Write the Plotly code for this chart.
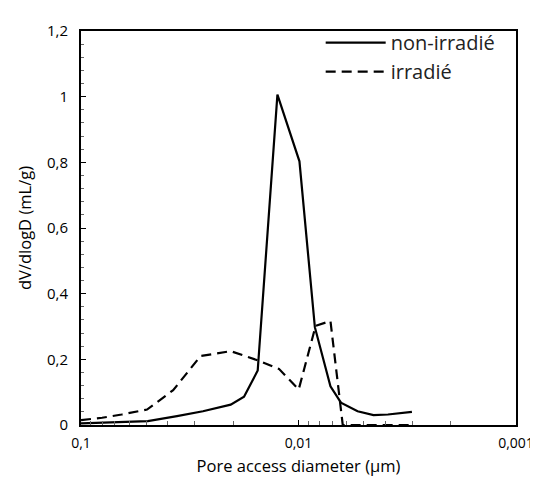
import plotly.graph_objects as go

# Pore access diameter (µm) and dV/dlogD (mL/g)
diam_non_irr = [0.100, 0.0493, 0.0362, 0.0275, 0.0205, 0.0178, 0.0154, 0.0125, 0.0099,
                0.00841, 0.00713, 0.00638, 0.00535, 0.00452, 0.00388, 0.00301]
dvdlogd_non_irr = [0.005, 0.012, 0.027, 0.042, 0.062, 0.086, 0.166, 1.006, 0.803,
                   0.298, 0.118, 0.068, 0.042, 0.030, 0.032, 0.040]

diam_irr = [0.100, 0.0800, 0.0650, 0.0497, 0.0377, 0.0282, 0.0205, 0.0154, 0.0123,
            0.00998, 0.00834, 0.00713, 0.00626, 0.00500, 0.00400, 0.00301]
dvdlogd_irr = [0.015, 0.022, 0.032, 0.047, 0.106, 0.210, 0.225, 0.197, 0.171,
               0.108, 0.302, 0.317, 0.0, 0.0, 0.0, 0.0]

x_tickvals = [0.1, 0.01, 0.001]
x_ticktext = ["0,1", "0,01", "0,001"]
x_minor_vals = [m * 10.0 ** e for e in (-2, -3) for m in range(2, 10)]

fig = go.Figure()
fig.add_trace(go.Scatter(x=diam_non_irr, y=dvdlogd_non_irr, mode="lines",
                         name="non-irradié", line=dict(color="black", width=2.2)))
fig.add_trace(go.Scatter(x=diam_irr, y=dvdlogd_irr, mode="lines",
                         name="irradié", line=dict(color="black", width=2.2, dash="10px,6px")))

font_family = "Open Sans, Lato, DejaVu Sans, sans-serif"
fig.update_layout(
    width=538, height=477,
    margin=dict(l=73, r=18, t=16, b=58),
    paper_bgcolor="white", plot_bgcolor="white",
    separators=", ",
    font=dict(family=font_family, size=14, color="black"),
    showlegend=True,
    legend=dict(x=0.551, y=1.02, xanchor="left", yanchor="top",
                bgcolor="rgba(0,0,0,0)", font=dict(size=20, color="#222"),
                tracegroupgap=0, itemwidth=60),
    xaxis=dict(type="log", range=[-1, -3], tickvals=x_tickvals, ticktext=x_ticktext,
               showline=True, linecolor="black", linewidth=2, mirror=True,
               ticks="inside", ticklen=5, tickcolor="black", showgrid=False, zeroline=False,
               ticklabelstandoff=4,
               minor=dict(ticks="inside", ticklen=4, tickcolor="#666", showgrid=False,
                          tickvals=x_minor_vals),
               title=dict(text="Pore access diameter (µm)", font=dict(size=16.5), standoff=10)),
    yaxis=dict(range=[0, 1.2], dtick=0.2, tickformat="~g", tickfont=dict(size=15),
               showline=True, linecolor="black", linewidth=2, mirror=True,
               ticks="inside", ticklen=5, tickcolor="black", showgrid=False, zeroline=False,
               ticklabelstandoff=8,
               minor=dict(ticks="inside", ticklen=3, dtick=0.04, tickcolor="#666", showgrid=False),
               title=dict(text="dV/dlogD (mL/g)", font=dict(size=16.5), standoff=11)),
)

fig.write_html("out.html")
